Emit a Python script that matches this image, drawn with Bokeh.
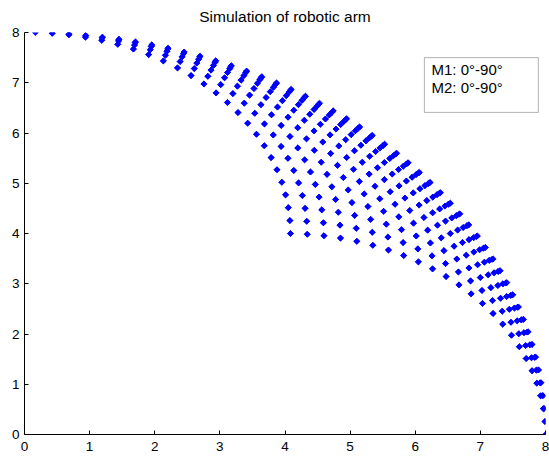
import numpy as np
from bokeh.plotting import figure
from bokeh.models import ColumnDataSource, BoxAnnotation, Label, Range1d
from bokeh.embed import file_html
from bokeh.resources import INLINE

# Joint angle samples (degrees), link lengths
m1_deg = [0.0, 3.7, 7.4, 11.1, 14.8, 18.5, 22.2, 25.9, 29.6, 33.3, 37.0, 40.7,
          44.4, 48.1, 51.8, 55.5, 59.2, 62.9, 66.6, 70.3, 74.0, 77.7, 81.4, 85.1, 88.8]
m2_deg = [0.0, 3.7, 7.4, 11.1, 14.8, 18.5, 22.2, 25.9, 29.6, 33.3, 37.0, 40.7,
          44.4, 48.1, 51.8, 55.5, 59.2, 62.9, 66.6, 70.3, 74.0, 77.7, 81.4, 85.1, 88.8]
link1 = 4.0
link2 = 4.0
x_ticks = [0, 1, 2, 3, 4, 5, 6, 7, 8]
y_ticks = [0, 1, 2, 3, 4, 5, 6, 7, 8]
title_text = "Simulation of robotic arm"
note_lines = ["M1: 0°-90°", "M2: 0°-90°"]

a, b = np.meshgrid(np.radians(m1_deg), np.radians(m2_deg))
xs = (link1 * np.cos(a) + link2 * np.cos(b)).ravel()
ys = (link1 * np.sin(a) + link2 * np.sin(b)).ravel()
src = ColumnDataSource(dict(x=xs, y=ys))

FONT = "Liberation Sans"

p = figure(width=549, height=456, output_backend="svg", toolbar_location=None,
           x_range=Range1d(0, 8), y_range=Range1d(0, 8),
           min_border_left=24, min_border_right=4, min_border_top=32, min_border_bottom=22,
           title=title_text)
p.title.align = "center"
p.title.text_font = FONT
p.title.text_font_size = "15.5px"
p.title.text_font_style = "normal"
p.title.text_color = "black"
p.title.vertical_align = "top"
p.title.standoff = 12

p.outline_line_color = None
p.grid.visible = False
p.background_fill_color = "white"
p.border_fill_color = "white"

for ax in (p.xaxis[0], p.yaxis[0]):
    ax.axis_line_color = "black"
    ax.major_tick_line_color = "black"
    ax.major_tick_in = 4
    ax.major_tick_out = 0
    ax.minor_tick_line_color = None
    ax.major_label_text_font = FONT
    ax.major_label_text_font_size = "13.5px"
    ax.major_label_text_color = "black"
p.xaxis.ticker = x_ticks
p.yaxis.ticker = y_ticks
p.xaxis.major_label_standoff = 7
p.yaxis.major_label_standoff = 5

p.scatter("x", "y", source=src, marker="square", angle=np.pi / 4, size=4.3,
          fill_color="#0000ff", line_color="#0000ff", line_width=0.6)

box = BoxAnnotation(left=6.14, right=7.89, bottom=6.41, top=7.50,
                    fill_color="white", fill_alpha=1.0, line_color="black", line_width=1)
p.add_layout(box)
for i, t in enumerate(note_lines):
    p.add_layout(Label(x=6.25, y=7.27 - i * 0.36, text=t, text_font=FONT,
                       text_font_size="15px", text_color="black",
                       text_baseline="middle"))

open("out.html", "w").write(file_html(p, INLINE))
